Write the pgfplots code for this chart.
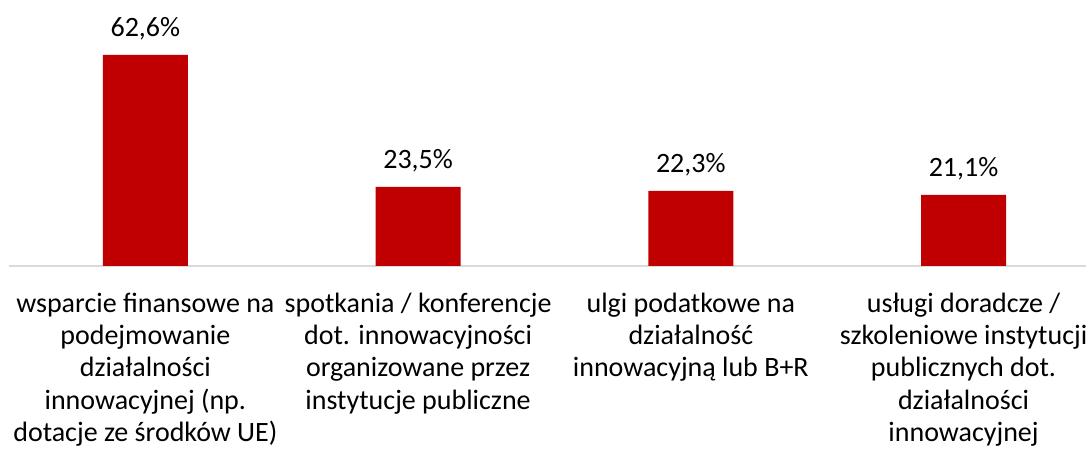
\documentclass[border=0pt]{standalone}
\usepackage{fontspec}
\setmainfont{Carlito}
\usepackage{pgfplots}
\pgfplotsset{compat=1.18}
\definecolor{barred}{RGB}{192,0,0}
\definecolor{axgray}{RGB}{217,217,217}
\begin{document}
\begin{tikzpicture}
\begin{axis}[name=ax, scale only axis, width=538.5pt, height=133pt,
  xmin=-0.5, xmax=3.449, ymin=0, ymax=78.9, clip=false,
  axis x line*=bottom, axis y line=none,
  x axis line style={axgray, line width=0.8pt},
  ytick=\empty, xtick={0,1,2,3}, major tick length=0,
  xticklabels={{wsparcie finansowe na\\podejmowanie\\działalności\\innowacyjnej (np.\\dotacje ze środków UE)},
    {spotkania / konferencje\\dot. innowacyjności\\organizowane przez\\instytucje publiczne},
    {ulgi podatkowe na\\działalność\\innowacyjną lub B+R},
    {usługi doradcze /\\szkoleniowe instytucji\\publicznych dot.\\działalności\\innowacyjnej}},
  xticklabel style={font=\fontsize{14}{16.1}\selectfont, align=center, anchor=north, yshift=-10pt},
  ybar, bar width=42.5pt,
  nodes near coords, point meta=explicit symbolic,
  every node near coord/.append style={font=\fontsize{14}{16.1}\selectfont, anchor=base, inner sep=0pt, yshift=9pt, black},
]
\addplot[fill=barred, draw=none] coordinates {(0,62.6) [62,6\%] (1,23.5) [23,5\%] (2,22.3) [22,3\%] (3,21.1) [21,1\%]};
\end{axis}
\pgfresetboundingbox
\path ([xshift=-4.5pt,yshift=-93.5pt]ax.south west) rectangle (ax.north east);
\end{tikzpicture}
\end{document}
